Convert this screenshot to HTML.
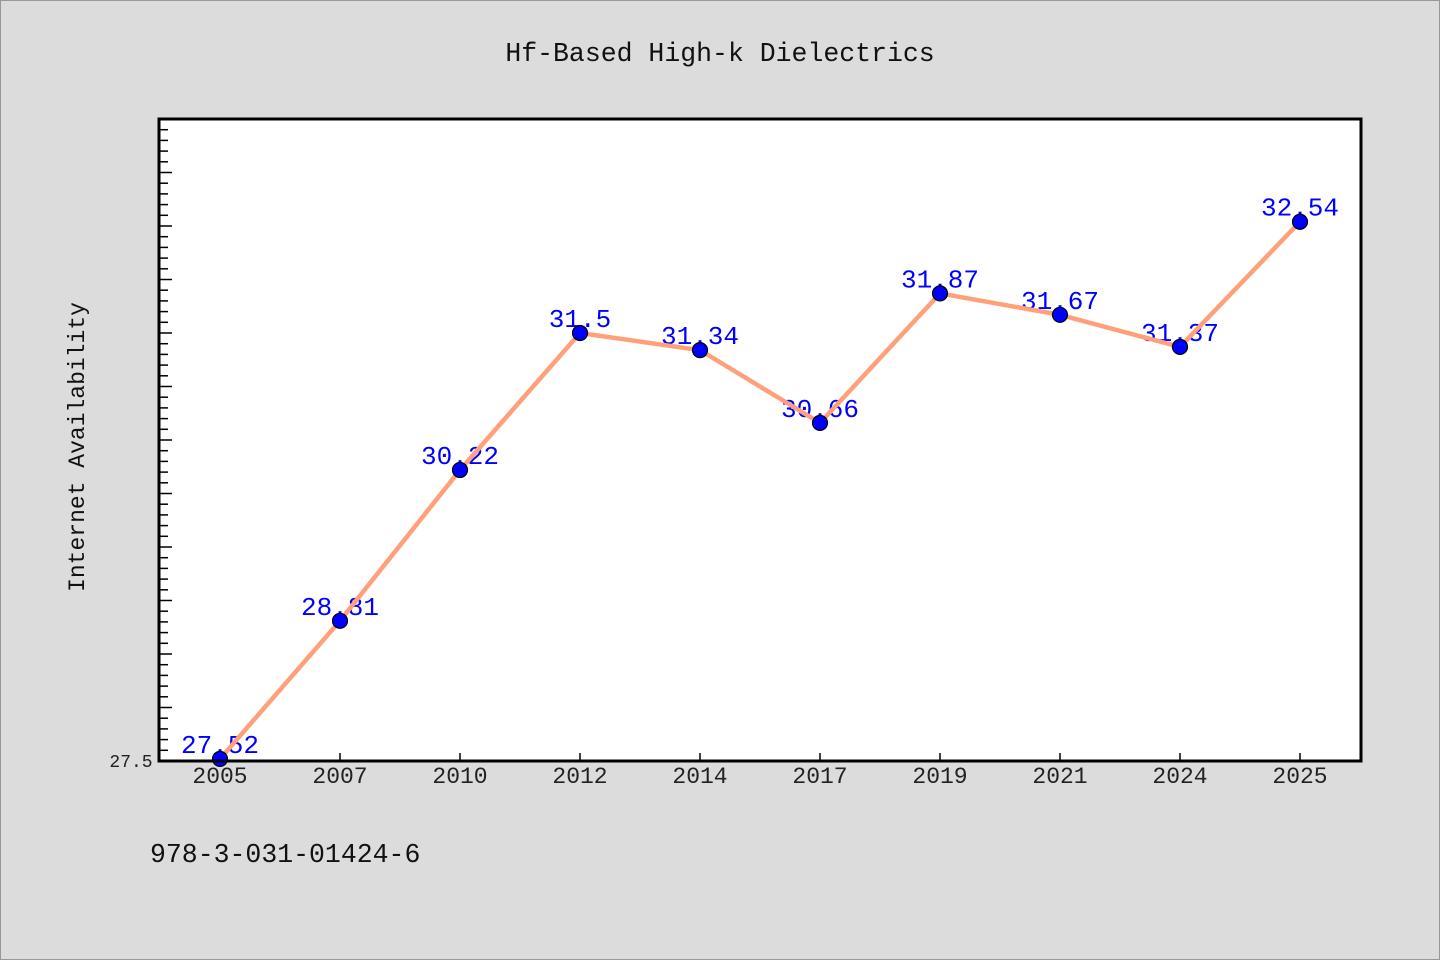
<!DOCTYPE html>
<html><head><meta charset="utf-8"><style>
html,body{margin:0;padding:0;background:#dcdcdc;}
svg{display:block;font-family:"Liberation Mono","DejaVu Sans Mono",monospace;}
</style></head><body>
<svg id="chart" width="1440" height="960" viewBox="0 0 1440 960">
<rect x="0.5" y="0.5" width="1439" height="959" fill="#dcdcdc" stroke="#999"/>
<text x="720" y="61" text-anchor="middle" font-size="26.5" fill="#111">Hf-Based High-k Dielectrics</text>
<rect x="159" y="119" width="1202" height="642" fill="#fff"/>
<g id="yticks"></g>
<g id="xticks"></g>
<g id="labels"></g>
<g id="series"></g>
<rect x="159" y="119" width="1202" height="642" fill="none" stroke="#000" stroke-width="3"/>
<text x="84" y="447" text-anchor="middle" font-size="23" fill="#111" transform="rotate(-90 84 447)">Internet Availability</text>
<text x="131" y="767" text-anchor="middle" font-size="18" fill="#222">27.5</text>
<text x="150" y="862" font-size="26.5" fill="#111">978-3-031-01424-6</text>
</svg>
<script>
const categories=["2005","2007","2010","2012","2014","2017","2019","2021","2024","2025"];
const values=[27.52,28.81,30.22,31.5,31.34,30.66,31.87,31.67,31.37,32.54];
const yMin=27.5, yMax=33.5;
const NS="http://www.w3.org/2000/svg";
const L=159,R=1361,T=119,B=761;
function xs(i){return 220+i*120;}
function ys(v){return B-(v-yMin)/(yMax-yMin)*(B-T);}
function mk(t,a,p){const e=document.createElementNS(NS,t);for(const k in a)e.setAttribute(k,a[k]);p.appendChild(e);return e;}
const yt=document.getElementById('yticks');
for(let k=1;k<=60;k++){const v=yMin+k*0.1;const y=ys(v);const len=(k%5===0)?13:9;
 const t=mk('line',{x1:L,x2:L+len,y1:y,y2:y,stroke:'#000','stroke-width':1.5},yt);
 
 }
const xt=document.getElementById('xticks');
categories.forEach((c,i)=>{const x=xs(i);
 const t=mk('line',{x1:x,x2:x,y1:B,y2:B-8,stroke:'#000','stroke-width':1.5},xt);
 
 
 const l=mk('text',{x:x,y:783,'text-anchor':'middle','font-size':23,fill:'#222'},xt);l.textContent=c;
 
 });
const lb=document.getElementById('labels');
values.forEach((v,i)=>{const t=mk('text',{x:xs(i),y:ys(v)-6,'text-anchor':'middle','font-size':26,fill:'#0000ff'},lb);t.textContent=String(v);
 
 });
const s=document.getElementById('series');
const pl=mk('polyline',{points:values.map((v,i)=>xs(i)+','+ys(v)).join(' '),fill:'none',stroke:'#ffa07a','stroke-width':4.5},s);


values.forEach((v,i)=>{const c=mk('circle',{cx:xs(i),cy:ys(v),r:7.5,fill:'#0000ff',stroke:'#000','stroke-width':1.2},s);
 
 });
</script>
</body></html>
